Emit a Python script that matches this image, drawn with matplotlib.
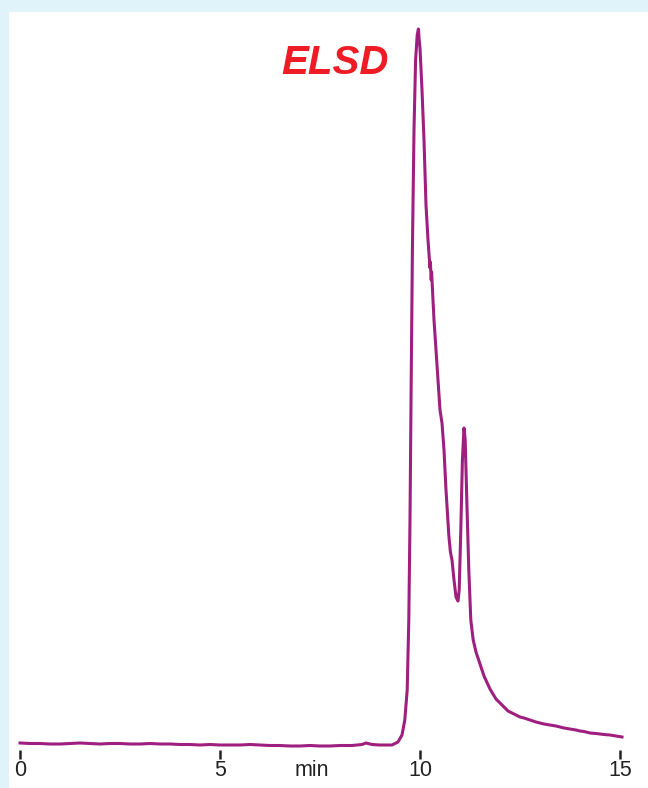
import matplotlib.pyplot as plt
from matplotlib.patches import Rectangle

# ELSD trace (time in min, detector signal in arbitrary units)
time_min = [0.0, 0.25, 0.5, 0.75, 1.0, 1.25, 1.5, 1.75, 2.0, 2.25, 2.5, 2.75,
            3.0, 3.25, 3.5, 3.75, 4.0, 4.25, 4.5, 4.75, 5.0, 5.25, 5.5, 5.75,
            6.0, 6.25, 6.5, 6.75, 7.0, 7.25, 7.5, 7.75, 8.0, 8.3, 8.55, 8.65,
            8.8, 9.0, 9.3, 9.45, 9.55, 9.62, 9.68, 9.72, 9.75, 9.78, 9.81, 9.85,
            9.89, 9.93, 9.96, 9.98, 10.0, 10.05, 10.1, 10.15, 10.2, 10.25, 10.26,
            10.28, 10.29, 10.35, 10.45, 10.5, 10.55, 10.6, 10.65, 10.72, 10.76,
            10.8, 10.85, 10.9, 10.95, 10.98, 11.02, 11.06, 11.1, 11.13, 11.17,
            11.22, 11.27, 11.33, 11.4, 11.5, 11.6, 11.75, 11.9, 12.0, 12.1, 12.2,
            12.3, 12.4, 12.5, 12.6, 12.75, 12.9, 13.0, 13.1, 13.25, 13.4, 13.5,
            13.6, 13.75, 13.9, 14.0, 14.1, 14.25, 14.4, 14.5, 14.6, 14.75, 14.9,
            15.05]
signal = [3, 2.5, 2.5, 2.0, 2.0, 2.5, 3.0, 2.5, 2.0, 2.5, 2.5, 2.0,
          2.0, 2.5, 2.0, 2.0, 1.5, 1.5, 1.0, 1.5, 1.0, 1.0, 1.0, 1.5,
          1.0, 0.5, 0.5, 0.0, 0.0, 0.5, 0.0, 0.0, 0.5, 0.5, 1.5, 3.0,
          1.5, 1.0, 1.0, 4, 11, 26, 56, 126, 226, 366, 496, 616,
          686, 711, 717, 706, 698, 656, 606, 541, 506, 478, 484,
          466, 474, 426, 366, 336, 323, 296, 256, 211, 194,
          186, 166, 149, 145, 156, 216, 286, 318, 306, 246,
          176, 126, 106, 94, 82, 70, 57, 47, 43, 39, 35,
          33, 31, 29, 28, 26, 24, 23, 22, 21, 20, 19,
          18, 17, 16, 15, 14.5, 13, 12.5, 12, 11.5, 11, 10,
          9]

tick_pos = [0, 5, 10, 15]
tick_text = ["0", "5", "10", "15"]

fig = plt.figure(figsize=(6.48, 7.88), dpi=100)
fig.patch.set_facecolor("#E0F2FA")
# white panel inside the light blue frame
fig.patches.append(Rectangle((9 / 648, 0), 1 - 9 / 648, (788 - 12) / 788,
                             transform=fig.transFigure, facecolor="white",
                             edgecolor="none", zorder=-1))

ax = fig.add_axes([0, 0, 1, 1])
ax.set_facecolor("none")
ax.plot(time_min, signal, color="#9E1F7F", lw=2.2, solid_joinstyle="round")
ax.set_xlim(-0.5, 15.7)
ax.set_ylim(-42, 746)

for side in ["top", "left", "right"]:
    ax.spines[side].set_visible(False)
ax.spines["bottom"].set_position(("data", -4))
ax.spines["bottom"].set_color("none")
ax.set_yticks([])
ax.set_xticks(tick_pos)
ax.set_xticklabels(tick_text, fontsize=15.5, family="Liberation Sans", color="#222222")
ax.tick_params(axis="x", direction="out", length=6.5, width=1.8, color="#222222", pad=1)

ax.annotate("min", xy=(7.3, -4), xytext=(0, -7.5), textcoords="offset points",
            ha="center", va="top", fontsize=15.5, family="Liberation Sans", color="#222222")

fig.text(335 / 648, 1 - 63 / 788, "ELSD", ha="center", va="center",
         fontsize=29, fontweight="bold", fontstyle="italic",
         family="Liberation Sans", color="#EE1C25")

fig.savefig("out.png", dpi=100, facecolor=fig.get_facecolor())
